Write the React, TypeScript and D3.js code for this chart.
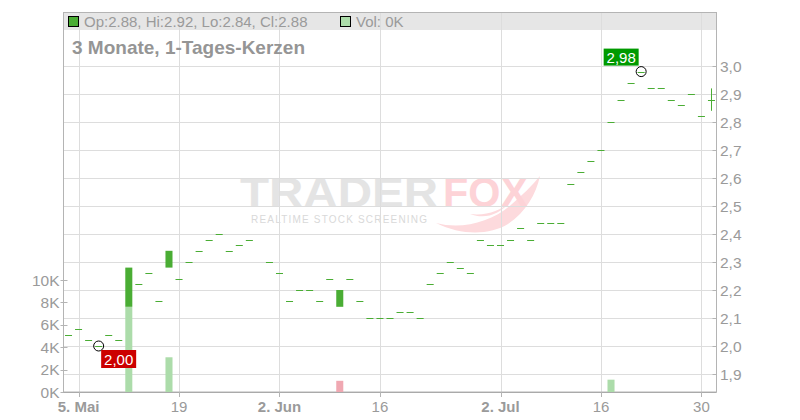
import * as d3 from 'd3';

// Daily candles, 2 May – 31 Jul 2025 (29 May has no trade)
const DATES = [
  '2025-05-02', '2025-05-05', '2025-05-06', '2025-05-07', '2025-05-08', '2025-05-09',
  '2025-05-12', '2025-05-13', '2025-05-14', '2025-05-15', '2025-05-16',
  '2025-05-19', '2025-05-20', '2025-05-21', '2025-05-22', '2025-05-23',
  '2025-05-26', '2025-05-27', '2025-05-28', '2025-05-30',
  '2025-06-02', '2025-06-03', '2025-06-04', '2025-06-05', '2025-06-06',
  '2025-06-09', '2025-06-10', '2025-06-11', '2025-06-12', '2025-06-13',
  '2025-06-16', '2025-06-17', '2025-06-18', '2025-06-19', '2025-06-20',
  '2025-06-23', '2025-06-24', '2025-06-25', '2025-06-26', '2025-06-27',
  '2025-06-30', '2025-07-01', '2025-07-02', '2025-07-03', '2025-07-04',
  '2025-07-07', '2025-07-08', '2025-07-09', '2025-07-10', '2025-07-11',
  '2025-07-14', '2025-07-15', '2025-07-16', '2025-07-17', '2025-07-18',
  '2025-07-21', '2025-07-22', '2025-07-23', '2025-07-24', '2025-07-25',
  '2025-07-28', '2025-07-29', '2025-07-30', '2025-07-31',
];

const OPEN = [
  2.04, 2.06, 2.02, 2.00, 2.04, 2.02,
  2.14, 2.22, 2.26, 2.16, 2.28,
  2.24, 2.30, 2.34, 2.38, 2.40,
  2.34, 2.36, 2.38, 2.30,
  2.26, 2.16, 2.20, 2.20, 2.16,
  2.24, 2.14, 2.24, 2.16, 2.10,
  2.10, 2.10, 2.12, 2.12, 2.10,
  2.22, 2.26, 2.30, 2.28, 2.26,
  2.38, 2.36, 2.36, 2.38, 2.42,
  2.38, 2.44, 2.44, 2.44, 2.58,
  2.62, 2.66, 2.70, 2.80, 2.88,
  2.94, 2.98, 2.92, 2.92, 2.88,
  2.86, 2.90, 2.82, 2.88,
];

const HIGH = [
  2.04, 2.06, 2.02, 2.00, 2.04, 2.02,
  2.28, 2.22, 2.26, 2.16, 2.34,
  2.24, 2.30, 2.34, 2.38, 2.40,
  2.34, 2.36, 2.38, 2.30,
  2.26, 2.16, 2.20, 2.20, 2.16,
  2.24, 2.20, 2.24, 2.16, 2.10,
  2.10, 2.10, 2.12, 2.12, 2.10,
  2.22, 2.26, 2.30, 2.28, 2.26,
  2.38, 2.36, 2.36, 2.38, 2.42,
  2.38, 2.44, 2.44, 2.44, 2.58,
  2.62, 2.66, 2.70, 2.80, 2.88,
  2.94, 2.98, 2.92, 2.92, 2.88,
  2.86, 2.90, 2.82, 2.92,
];

const LOW = [
  2.04, 2.06, 2.02, 2.00, 2.04, 2.02,
  2.14, 2.22, 2.26, 2.16, 2.28,
  2.24, 2.30, 2.34, 2.38, 2.40,
  2.34, 2.36, 2.38, 2.30,
  2.26, 2.16, 2.20, 2.20, 2.16,
  2.24, 2.14, 2.24, 2.16, 2.10,
  2.10, 2.10, 2.12, 2.12, 2.10,
  2.22, 2.26, 2.30, 2.28, 2.26,
  2.38, 2.36, 2.36, 2.38, 2.42,
  2.38, 2.44, 2.44, 2.44, 2.58,
  2.62, 2.66, 2.70, 2.80, 2.88,
  2.94, 2.98, 2.92, 2.92, 2.88,
  2.86, 2.90, 2.82, 2.84,
];

const CLOSE = [
  2.04, 2.06, 2.02, 2.00, 2.04, 2.02,
  2.28, 2.22, 2.26, 2.16, 2.34,
  2.24, 2.30, 2.34, 2.38, 2.40,
  2.34, 2.36, 2.38, 2.30,
  2.26, 2.16, 2.20, 2.20, 2.16,
  2.24, 2.20, 2.24, 2.16, 2.10,
  2.10, 2.10, 2.12, 2.12, 2.10,
  2.22, 2.26, 2.30, 2.28, 2.26,
  2.38, 2.36, 2.36, 2.38, 2.42,
  2.38, 2.44, 2.44, 2.44, 2.58,
  2.62, 2.66, 2.70, 2.80, 2.88,
  2.94, 2.98, 2.92, 2.92, 2.88,
  2.86, 2.90, 2.82, 2.88,
];

const VOLUME = [
  0, 0, 0, 0, 0, 0,
  7600, 0, 0, 0, 3100,
  0, 0, 0, 0, 0,
  0, 0, 0, 0,
  0, 0, 0, 0, 0,
  0, 1000, 0, 0, 0,
  0, 0, 0, 0, 0,
  0, 0, 0, 0, 0,
  0, 0, 0, 0, 0,
  0, 0, 0, 0, 0,
  0, 0, 0, 1100, 0,
  0, 0, 0, 0, 0,
  0, 0, 0, 0,
];

const X_TICK_DATES = ['2025-05-05', '2025-05-19', '2025-06-02', '2025-06-16', '2025-07-02', '2025-07-16', '2025-07-30'];
const X_TICK_LABELS = ['5. Mai', '19', '2. Jun', '16', '2. Jul', '16', '30'];
const PRICE_TICKS = [1.9, 2.0, 2.1, 2.2, 2.3, 2.4, 2.5, 2.6, 2.7, 2.8, 2.9, 3.0];
const VOLUME_TICKS = [0, 2000, 4000, 6000, 8000, 10000];

const FONT = '"Liberation Sans", Arial, Helvetica, sans-serif';
const GREEN = '#4aad34';
const VOL_UP = '#acdcaa';
const VOL_DOWN = '#f0a8b2';
const GRID = '#dddddd';
const AXIS = '#b4b4b4';
const LABEL = '#9a9a9a';

const deFormat = d3.formatLocale({ decimal: ',', thousands: '.', grouping: [3], currency: ['', '€'] });
const fmt1 = deFormat.format('.1f');
const fmt2 = deFormat.format('.2f');

export default function App() {
  const W = 800;
  const H = 420;
  const left = 63.5;
  const right = 716.5;
  const top = 12;
  const bottom = 392;

  const parse = d3.utcParse('%Y-%m-%d');
  const key = d3.utcFormat('%Y-%m-%d');
  // every weekday is a slot on the axis, traded or not
  const slots = d3.utcDay
    .range(parse(DATES[0])!, d3.utcDay.offset(parse(DATES[DATES.length - 1])!, 1))
    .filter((d) => d.getUTCDay() !== 0 && d.getUTCDay() !== 6)
    .map(key);

  const x = d3.scaleBand<string>().domain(slots).range([left, right]).paddingInner(0.3).paddingOuter(0.15);
  const bw = x.bandwidth();
  const cx = (d: string) => (x(d) ?? 0) + bw / 2;
  const y = d3.scaleLinear().domain([1.9, 3.0]).range([374, 66]);
  const yv = d3.scaleLinear().domain([0, 10000]).range([bottom, 280]);

  const lowIdx = d3.minIndex(LOW);
  const highIdx = d3.maxIndex(HIGH);
  const last = DATES.length - 1;

  return (
    <svg
      width={W}
      height={H}
      style={{ position: 'absolute', left: 0, top: 0, background: '#fff', fontFamily: FONT }}
    >
      {/* watermark */}
      <g>
        <text x={240} y={206.5} fontSize={42} fontWeight="bold" fill="#e4e4e4" textLength={198} lengthAdjust="spacingAndGlyphs">
          TRADER
        </text>
        <path
          d="M436,223 C462,230 492,222 512,204 C522,195 532,186 540,176 C536,194 526,212 508,224 C490,235 462,236 436,223 Z M470,214 C488,216 502,210 512,200 C500,214 486,220 470,214 Z"
          fill="#fddadd"
          fillRule="evenodd"
        />
        <text x={443} y={206.5} fontSize={42} fontWeight="bold" fill="#fdd3d7" textLength={85} lengthAdjust="spacingAndGlyphs">
          FOX
        </text>
        <text x={251} y={222.5} fontSize={10} fill="#d9d9d9" textLength={176} lengthAdjust="spacing">
          REALTIME STOCK SCREENING
        </text>
      </g>

      {/* legend band */}
      <rect x={left} y={top} width={right - left} height={18} fill="#e6e6e6" />

      {/* grid */}
      {PRICE_TICKS.map((p) => (
        <line key={`gp${p}`} x1={left} x2={right} y1={Math.round(y(p)) + 0.5} y2={Math.round(y(p)) + 0.5} stroke={GRID} />
      ))}
      {X_TICK_DATES.map((d) => (
        <line key={`gx${d}`} x1={Math.round(cx(d)) + 0.5} x2={Math.round(cx(d)) + 0.5} y1={top} y2={bottom} stroke={GRID} />
      ))}

      {/* frame */}
      <rect x={left} y={top + 0.5} width={right - left} height={bottom - top - 0.5} fill="none" stroke={AXIS} />

      {/* legend */}
      <rect x={68.5} y={16.5} width={10} height={10} fill={GREEN} stroke="#000" />
      <text x={84} y={26.5} fontSize={15} fill={LABEL}>
        {`Op:${OPEN[last].toFixed(2)}, Hi:${HIGH[last].toFixed(2)}, Lo:${LOW[last].toFixed(2)}, Cl:${CLOSE[last].toFixed(2)}`}
      </text>
      <rect x={340.5} y={16.5} width={10} height={10} fill={VOL_UP} stroke="#000" />
      <text x={356} y={26.5} fontSize={15} fill={LABEL}>
        {`Vol: ${Math.round(VOLUME[last] / 1000)}K`}
      </text>
      <text x={72} y={54} fontSize={19} fontWeight="bold" fill="#959595">
        3 Monate, 1-Tages-Kerzen
      </text>

      {/* volume bars */}
      {DATES.map((d, i) =>
        VOLUME[i] > 0 ? (
          <rect
            key={`v${d}`}
            x={x(d)}
            y={yv(VOLUME[i])}
            width={bw}
            height={bottom - yv(VOLUME[i])}
            fill={i > 0 && CLOSE[i] < CLOSE[i - 1] ? VOL_DOWN : VOL_UP}
          />
        ) : null
      )}

      {/* candles */}
      {DATES.map((d, i) => {
        const x0 = x(d) ?? 0;
        const mid = Math.round(cx(d)) + 0.5;
        const o = OPEN[i];
        const c = CLOSE[i];
        return (
          <g key={`c${d}`}>
            {HIGH[i] > Math.max(o, c) || LOW[i] < Math.min(o, c) ? (
              <line x1={mid} x2={mid} y1={y(HIGH[i])} y2={y(LOW[i])} stroke={GREEN} />
            ) : null}
            {o === c ? (
              <line x1={x0} x2={x0 + bw} y1={Math.round(y(c)) + 0.5} y2={Math.round(y(c)) + 0.5} stroke={GREEN} />
            ) : (
              <rect x={x0} y={y(Math.max(o, c))} width={bw} height={Math.abs(y(o) - y(c))} fill={c > o ? GREEN : '#d83030'} />
            )}
          </g>
        );
      })}

      {/* low / high markers */}
      <circle cx={cx(DATES[lowIdx])} cy={y(LOW[lowIdx])} r={5} fill="none" stroke="#000" />
      <rect x={cx(DATES[lowIdx]) + 2.5} y={y(LOW[lowIdx]) + 4} width={35} height={18} fill="#cc0000" />
      <text x={cx(DATES[lowIdx]) + 20} y={y(LOW[lowIdx]) + 19} fontSize={15} fill="#fff" textAnchor="middle">
        {fmt2(LOW[lowIdx])}
      </text>
      <circle cx={cx(DATES[highIdx])} cy={y(HIGH[highIdx])} r={5} fill="none" stroke="#000" />
      <rect x={cx(DATES[highIdx]) - 37.5} y={y(HIGH[highIdx]) - 23} width={35} height={17} fill="#009a00" />
      <text x={cx(DATES[highIdx]) - 20} y={y(HIGH[highIdx]) - 9} fontSize={15} fill="#fff" textAnchor="middle">
        {fmt2(HIGH[highIdx])}
      </text>

      {/* right price axis */}
      {PRICE_TICKS.map((p) => (
        <g key={`tp${p}`}>
          <line x1={right - 4} x2={right} y1={Math.round(y(p)) + 0.5} y2={Math.round(y(p)) + 0.5} stroke={AXIS} />
          <text x={720} y={y(p) + 5.5} fontSize={15.5} fill={LABEL}>
            {fmt1(p)}
          </text>
        </g>
      ))}

      {/* left volume axis */}
      {VOLUME_TICKS.map((v) => (
        <g key={`tv${v}`}>
          <line x1={left - 3} x2={left + 4} y1={Math.round(yv(v)) + 0.5} y2={Math.round(yv(v)) + 0.5} stroke={AXIS} />
          <text x={59.5} y={yv(v) + 5.5} fontSize={15.5} fill={LABEL} textAnchor="end">
            {`${v / 1000}K`}
          </text>
        </g>
      ))}

      {/* date axis */}
      <line x1={left} x2={right} y1={bottom + 0.5} y2={bottom + 0.5} stroke="#aaa" />
      {X_TICK_DATES.map((d, i) => (
        <g key={`tx${d}`}>
          <line x1={Math.round(cx(d)) + 0.5} x2={Math.round(cx(d)) + 0.5} y1={bottom} y2={bottom + 5} stroke={AXIS} />
          <text
            x={cx(d)}
            y={412}
            fontSize={15}
            fill={LABEL}
            textAnchor="middle"
            fontWeight={X_TICK_LABELS[i].includes('.') ? 'bold' : 'normal'}
          >
            {X_TICK_LABELS[i]}
          </text>
        </g>
      ))}
    </svg>
  );
}
